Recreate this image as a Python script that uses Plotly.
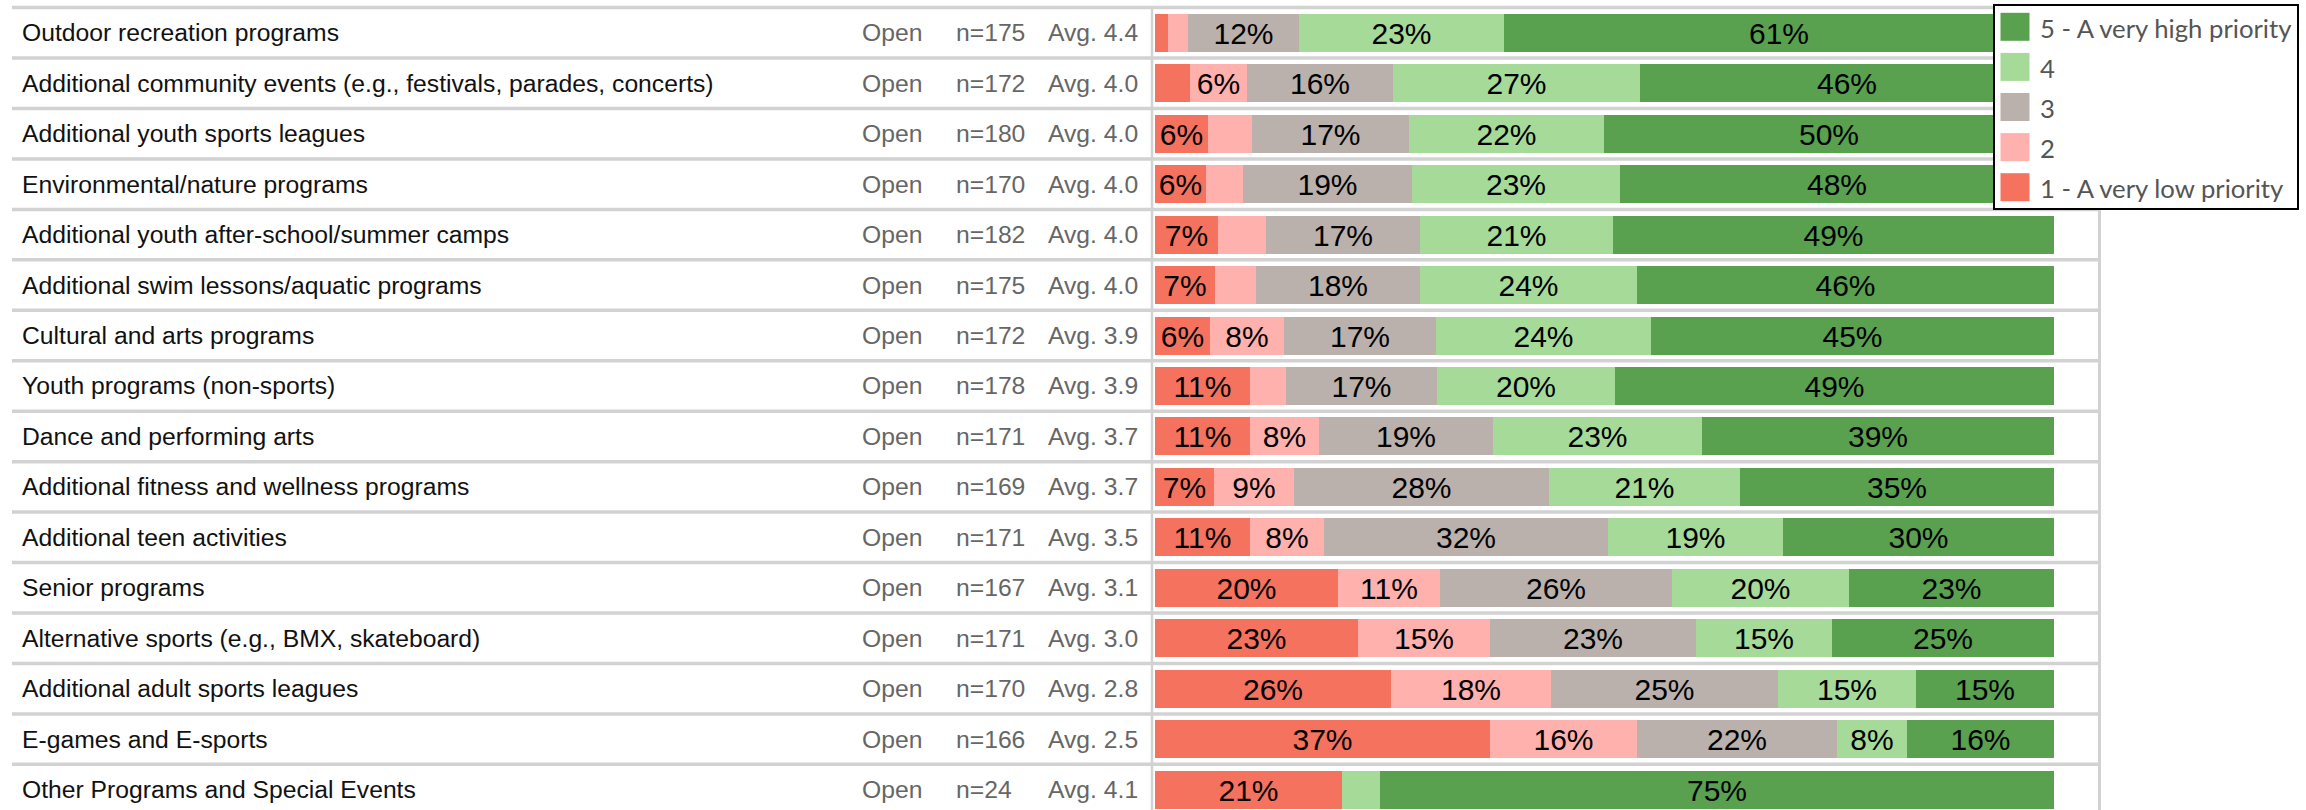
import plotly.graph_objects as go

# ---------------- data ----------------
categories = [
    "Outdoor recreation programs",
    "Additional community events (e.g., festivals, parades, concerts)",
    "Additional youth sports leagues",
    "Environmental/nature programs",
    "Additional youth after-school/summer camps",
    "Additional swim lessons/aquatic programs",
    "Cultural and arts programs",
    "Youth programs (non-sports)",
    "Dance and performing arts",
    "Additional fitness and wellness programs",
    "Additional teen activities",
    "Senior programs",
    "Alternative sports (e.g., BMX, skateboard)",
    "Additional adult sports leagues",
    "E-games and E-sports",
    "Other Programs and Special Events",
]
status_labels = ["Open"] * 16
n_values = [175, 172, 180, 170, 182, 175, 172, 178, 171, 169, 171, 167, 171, 170, 166, 24]
averages = [4.4, 4.0, 4.0, 4.0, 4.0, 4.0, 3.9, 3.9, 3.7, 3.7, 3.5, 3.1, 3.0, 2.8, 2.5, 4.1]

series_names = ["1 - A very low priority", "2", "3", "4", "5 - A very high priority"]
p1 = [1.4, 3.9, 5.9, 5.7, 7.0, 6.7, 6.1, 10.6, 10.6, 6.6, 10.6, 20.3, 22.6, 26.3, 37.3, 20.8]
p2 = [2.3, 6.3, 4.9, 4.1, 5.4, 4.5, 8.2, 4.0, 7.6, 8.9, 8.2, 11.4, 14.7, 17.7, 16.3, 0.0]
p3 = [12.3, 16.3, 17.4, 18.8, 17.1, 18.3, 17.0, 16.8, 19.4, 28.3, 31.6, 25.8, 22.9, 25.3, 22.3, 0.0]
p4 = [22.8, 27.4, 21.7, 23.1, 21.4, 24.1, 23.9, 19.8, 23.3, 21.3, 19.4, 19.7, 15.1, 15.4, 7.7, 4.2]
p5 = [61.2, 46.1, 50.1, 48.3, 49.1, 46.4, 44.8, 48.8, 39.1, 34.9, 30.2, 22.8, 24.7, 15.3, 16.4, 75.0]
series_values = [p1, p2, p3, p4, p5]

# ---------------- styles ----------------
W, H = 2306, 810
colors = ["#F5725F", "#FFB1AE", "#BAB0AC", "#A6DA98", "#59A14F"]
LABEL_MIN = 5.5
ROW0_PX, PITCH = 32.8, 50.45
y_top = -ROW0_PX / PITCH
y_bot = y_top + H / PITCH
SEP = "#d2d2d2"
FONT = "Liberation Sans, Arial, sans-serif"


def px(x):
    return x / W


def py(y):
    return 1 - y / H


rows = list(range(len(categories)))
fig = go.Figure()

for name, vals, col in zip(series_names, series_values, colors):
    fig.add_trace(go.Bar(
        y=rows, x=vals, orientation="h", name=name,
        marker=dict(color=col, line=dict(width=0)),
        width=38 / PITCH,
        text=[f"{round(v)}%" if v >= LABEL_MIN else "" for v in vals],
        textposition="inside", insidetextanchor="middle", textangle=0,
        textfont=dict(family=FONT, size=30, color="black"),
        hoverinfo="skip", showlegend=False,
    ))

shapes = []
# horizontal row separators
for i in range(len(categories) + 1):
    shapes.append(dict(type="line", xref="paper", yref="y",
                       x0=px(12), x1=px(2100.5), y0=i - 0.5, y1=i - 0.5,
                       line=dict(color=SEP, width=3.5), layer="below"))
# vertical separators
shapes.append(dict(type="line", xref="paper", yref="y", x0=px(1152), x1=px(1152),
                   y0=-0.5, y1=y_bot, line=dict(color=SEP, width=2.5), layer="below"))
shapes.append(dict(type="line", xref="paper", yref="y", x0=px(2099.5), x1=px(2099.5),
                   y0=-0.5, y1=y_bot, line=dict(color=SEP, width=3), layer="below"))

annotations = []
for i, cat in enumerate(categories):
    annotations.append(dict(x=px(20), xref="paper", y=i, yref="y", text=cat,
                            xanchor="left", yanchor="middle", showarrow=False,
                            font=dict(family=FONT, size=24.7, color="#111111")))
    annotations.append(dict(x=px(860), xref="paper", y=i, yref="y", text=status_labels[i],
                            xanchor="left", yanchor="middle", showarrow=False,
                            font=dict(family=FONT, size=24.7, color="#666666")))
    annotations.append(dict(x=px(953.5), xref="paper", y=i, yref="y", text=f"n={n_values[i]}",
                            xanchor="left", yanchor="middle", showarrow=False,
                            font=dict(family=FONT, size=24.7, color="#666666")))
    annotations.append(dict(x=px(1046), xref="paper", y=i, yref="y", text=f"Avg. {averages[i]:.1f}",
                            xanchor="left", yanchor="middle", showarrow=False,
                            font=dict(family=FONT, size=24.7, color="#666666")))

# legend box (custom, top-right)
shapes.append(dict(type="rect", xref="paper", yref="paper",
                   x0=px(1994), x1=px(2298), y0=py(209), y1=py(5),
                   line=dict(color="black", width=2), fillcolor="white", layer="above"))
for k, idx in enumerate([4, 3, 2, 1, 0]):
    cy = 26.8 + 40.1 * k
    shapes.append(dict(type="rect", xref="paper", yref="paper",
                       x0=px(2000.5), x1=px(2029.5), y0=py(cy + 14), y1=py(cy - 14),
                       line=dict(width=0), fillcolor=colors[idx], layer="above"))
    annotations.append(dict(x=px(2038), xref="paper", y=py(cy + 1), yref="paper",
                            text=series_names[idx], xanchor="left", yanchor="middle",
                            showarrow=False,
                            font=dict(family="Lato, sans-serif", size=25.7, color="#555555")))

fig.update_layout(
    width=W, height=H, autosize=False,
    margin=dict(l=0, r=0, t=0, b=0),
    paper_bgcolor="white", plot_bgcolor="white",
    barmode="stack", bargap=0,
    uniformtext=dict(minsize=30, mode="show"),
    xaxis=dict(domain=[px(1155), px(2054)], range=[0, 100], visible=False, fixedrange=True),
    yaxis=dict(domain=[0, 1], range=[y_bot, y_top], visible=False, fixedrange=True),
    shapes=shapes, annotations=annotations,
)

fig.write_html("out.html", config={"displayModeBar": False},
               post_script="document.body.style.margin='0';document.body.style.overflow='hidden';")
